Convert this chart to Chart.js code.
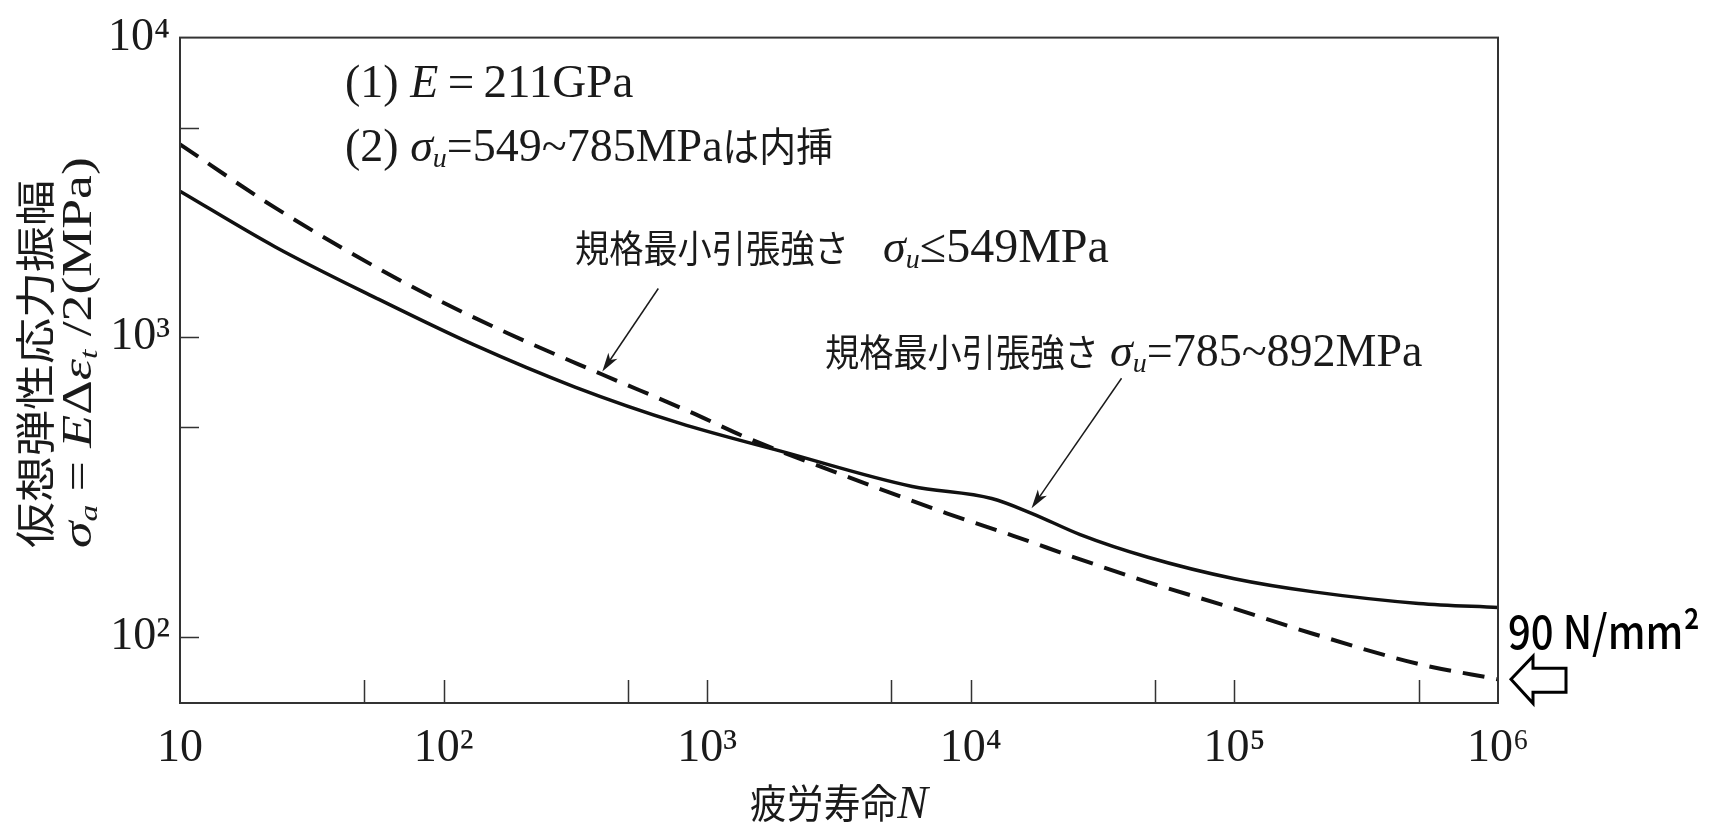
<!DOCTYPE html>
<html>
<head>
<meta charset="utf-8">
<script src="https://cdn.jsdelivr.net/npm/chart.js@4.4.1/dist/chart.umd.min.js"></script>
<style>
	html, body { margin: 0; padding: 0; background: #fff; }
	#wrap { width: 1714px; height: 823px; }
</style>
</head>
<body>
<div id="wrap"><canvas id="snChart" width="1714" height="823"></canvas></div>
<script>
// fatigue life N and stress amplitude (MPa)
const solidLife = [10, 23, 55, 130, 315, 790, 1900, 6000, 12000, 17000, 26000, 47000, 100000, 200000, 500000, 1000000];
const solidAmp = [3070, 2000, 1355, 943, 681, 515, 416, 317, 289, 258, 219, 184, 156, 141, 129, 125];
const dashLife = [10, 23, 73, 175, 400, 860, 1400, 3400, 8100, 14500, 26000, 47000, 100000, 200000, 500000, 1000000];
const dashAmp = [4400, 2700, 1500, 1030, 750, 563, 463, 342, 258, 217, 181, 152, 124, 102, 81, 72];
const xTickMarks = [50, 100, 500, 1000, 5000, 10000, 50000, 100000, 500000];
const yTickMarks = [100, 500, 1000, 5000];
const supers = {2: '²', 3: '³', 4: '⁴', 5: '⁵', 6: '⁶'};

const SERIF = '"Liberation Serif", "DejaVu Serif", serif';
const JP = '"Noto Sans CJK JP", sans-serif';
const INK = '#1a1a1a';

const S = (t, size, dy, sx) => ({t: t, f: size + 'px ' + SERIF, dy: dy || 0, sx: sx || 1});
const I = (t, size, dy, sx) => ({t: t, f: 'italic ' + size + 'px ' + SERIF, dy: dy || 0, sx: sx || 1});
const J = (t, size, dy, sx) => ({t: t, f: size + 'px ' + JP, dy: dy || 0, sx: sx || 1});

function drawRich(ctx, parts, x, y, align) {
	let w = 0;
	parts.forEach(p => { ctx.font = p.f; w += ctx.measureText(p.t).width * p.sx; });
	let cx = align === 'center' ? x - w / 2 : x;
	ctx.textAlign = 'left';
	ctx.textBaseline = 'alphabetic';
	parts.forEach(p => {
		ctx.font = p.f;
		ctx.save();
		ctx.translate(cx, y + p.dy);
		ctx.scale(p.sx, 1);
		ctx.fillText(p.t, 0, 0);
		ctx.restore();
		cx += ctx.measureText(p.t).width * p.sx;
	});
}

function leader(ctx, tx, ty, fx, fy) {
	const ang = Math.atan2(ty - fy, tx - fx);
	const c = Math.cos(ang), s = Math.sin(ang);
	ctx.beginPath();
	ctx.moveTo(fx, fy);
	ctx.lineTo(tx - c * 10, ty - s * 10);
	ctx.lineWidth = 1.5;
	ctx.stroke();
	ctx.beginPath();
	ctx.moveTo(tx, ty);
	ctx.lineTo(tx - c * 19 + s * 5.5, ty - s * 19 - c * 5.5);
	ctx.lineTo(tx - c * 14, ty - s * 14);
	ctx.lineTo(tx - c * 19 - s * 5.5, ty - s * 19 + c * 5.5);
	ctx.closePath();
	ctx.fill();
}

function powLabel(value) {
	const e = Math.log10(value);
	if (Math.abs(e - Math.round(e)) > 1e-9) return '';
	const n = Math.round(e);
	return n === 1 ? '10' : '10' + supers[n];
}

const decorations = {
	id: 'decorations',
	afterDraw(chart) {
		const {ctx, chartArea: a, scales: {x, y}} = chart;
		ctx.save();
		ctx.strokeStyle = '#333';
		ctx.fillStyle = INK;
		ctx.lineWidth = 2;
		ctx.strokeRect(a.left, a.top, a.right - a.left, a.bottom - a.top);

		// inward tick marks
		ctx.lineWidth = 1.5;
		ctx.beginPath();
		xTickMarks.forEach(v => {
			const px = Math.round(x.getPixelForValue(v)) + 0.5;
			ctx.moveTo(px, a.bottom);
			ctx.lineTo(px, a.bottom - 23);
		});
		yTickMarks.forEach(v => {
			const py = Math.round(y.getPixelForValue(v)) + 0.5;
			ctx.moveTo(a.left, py);
			ctx.lineTo(a.left + 19, py);
		});
		ctx.stroke();

		// notes
		ctx.strokeStyle = INK;
		drawRich(ctx, [S('(1) ', 46), I('E', 46), S('\u2009=\u2009211GPa', 47)], 345, 97);
		drawRich(ctx, [S('(2) ', 46), I('σ', 46), I('u', 28, 6), S('=549~785MPa', 46), J('は内挿', 40, 0, 0.92)], 345, 161);
		drawRich(ctx, [J('規格最小引張強さ', 38, 0, 0.9), S('   ', 46), I('σ', 46), I('u', 28, 6), S('≤549MPa', 48)], 575, 262);
		drawRich(ctx, [J('規格最小引張強さ', 38, 0, 0.9), S(' ', 46), I('σ', 46), I('u', 28, 6), S('=785~892MPa', 46)], 825, 366);

		// leader arrows anchored on the curves
		const t1x = x.getPixelForValue(400), t1y = y.getPixelForValue(750) - 3;
		leader(ctx, t1x, t1y, t1x + 56, t1y - 83);
		const t2x = x.getPixelForValue(17000), t2y = y.getPixelForValue(258) - 5;
		leader(ctx, t2x, t2y, t2x + 90, t2y - 130);

		// axis titles
		drawRich(ctx, [J('疲労寿命', 40, 0, 0.92), I('N', 46)], (a.left + a.right) / 2, 818, 'center');

		ctx.save();
		ctx.translate(50, 548);
		ctx.rotate(-Math.PI / 2);
		ctx.scale(1.15, 1);
		drawRich(ctx, [J('仮想弾性応力振幅', 40)], 0, 0);
		ctx.restore();

		ctx.save();
		ctx.translate(91, 548);
		ctx.rotate(-Math.PI / 2);
		ctx.scale(1.28, 1);
		drawRich(ctx, [I('σ', 42), I('a', 26, 6), S(' = ', 42), I('E', 42), S('Δ', 42), I('ε', 42), I('t', 26, 6), S(' /2(MPa)', 42)], 0, 0);
		ctx.restore();

		// 90 N/mm2 marker
		const ex = a.right + 13, ey = y.getPixelForValue(dashAmp[dashAmp.length - 1]);
		ctx.font = '500 46px ' + JP;
		ctx.fillStyle = '#000';
		const unitText = '90 N/mm²';
		const fit = Math.min(1, 192 / ctx.measureText(unitText).width);
		ctx.save();
		ctx.translate(1508, 649);
		ctx.scale(fit, 1);
		ctx.fillText(unitText, 0, 0);
		ctx.restore();
		ctx.beginPath();
		ctx.moveTo(ex, ey);
		ctx.lineTo(ex + 22, ey - 23);
		ctx.lineTo(ex + 22, ey - 11);
		ctx.lineTo(ex + 55, ey - 11);
		ctx.lineTo(ex + 55, ey + 13);
		ctx.lineTo(ex + 22, ey + 13);
		ctx.lineTo(ex + 22, ey + 24);
		ctx.closePath();
		ctx.fillStyle = '#fff';
		ctx.fill();
		ctx.strokeStyle = '#000';
		ctx.lineWidth = 3;
		ctx.stroke();
		ctx.restore();
	}
};

const tickFont = {family: SERIF, size: 46};

const config = {
	type: 'line',
	data: {
		datasets: [{
			label: '規格最小引張強さ σu=785～892MPa',
			data: solidLife.map((n, i) => ({x: n, y: solidAmp[i]})),
			borderColor: '#111',
			borderWidth: 3.5,
			pointRadius: 0,
			cubicInterpolationMode: 'monotone',
			fill: false
		}, {
			label: '規格最小引張強さ σu≤549MPa',
			data: dashLife.map((n, i) => ({x: n, y: dashAmp[i]})),
			borderColor: '#111',
			borderWidth: 4,
			borderDash: [22, 12],
			pointRadius: 0,
			cubicInterpolationMode: 'monotone',
			fill: false
		}]
	},
	options: {
		responsive: false,
		animation: false,
		devicePixelRatio: 1,
		layout: {padding: {top: 27, right: 216, left: 0, bottom: 0}},
		plugins: {legend: {display: false}, tooltip: {enabled: false}},
		scales: {
			x: {
				type: 'logarithmic',
				min: 10,
				max: 1000000,
				grid: {display: false, drawTicks: false},
				border: {display: false},
				ticks: {autoSkip: false, maxRotation: 0, padding: 18, color: INK, font: tickFont, callback: powLabel},
				afterFit(s) { s.height = 120; }
			},
			y: {
				type: 'logarithmic',
				min: 60,
				max: 10000,
				grid: {display: false, drawTicks: false},
				border: {display: false},
				ticks: {autoSkip: false, padding: 10, color: INK, font: tickFont, callback: powLabel},
				afterFit(s) { s.width = 180; }
			}
		}
	},
	plugins: [decorations]
};

new Chart(document.getElementById('snChart'), config);
</script>
</body>
</html>
